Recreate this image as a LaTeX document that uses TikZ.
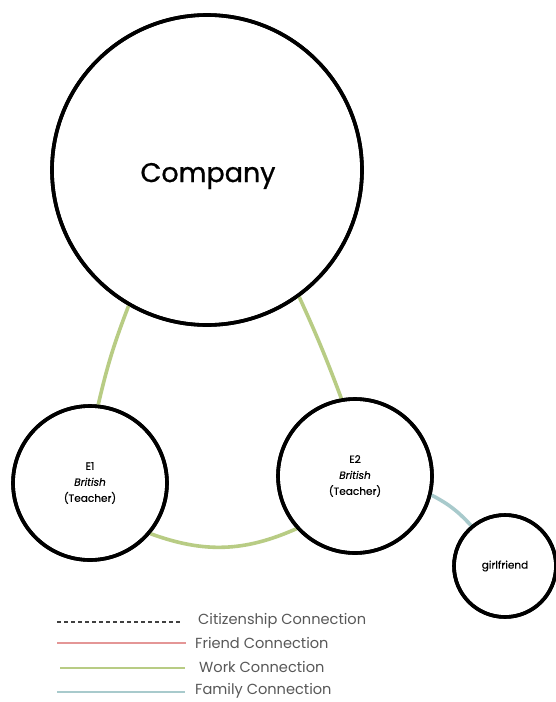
\documentclass[tikz,border=0pt]{standalone}
\usepackage{fontspec}
\setmainfont{Poppins}
\newfontfamily\medfont[FakeBold=0.8]{Poppins}
\newfontfamily\smallfont[FakeBold=0.4]{Poppins}
\definecolor{workgreen}{RGB}{184,204,132}
\definecolor{familyblue}{RGB}{168,202,204}
\definecolor{friendred}{RGB}{228,150,150}
\definecolor{legendgray}{RGB}{88,88,88}
\tikzset{
  person/.style={circle, draw=black, line width=3.6pt, inner sep=0pt, align=center, font=\smallfont\fontsize{10.5}{16}\selectfont},
  work/.style={draw=workgreen, line width=3.6pt},
  family/.style={draw=familyblue, line width=3.6pt},
  legendtext/.style={anchor=west, text=legendgray, font=\fontsize{14.6}{16}\selectfont, inner sep=0pt},
}
\begin{document}
\begin{tikzpicture}[x=1pt,y=-1pt]
\useasboundingbox[fill=white] (0,0) rectangle (555,702);
\node[person, minimum size=310pt] (company) at (207,170) {};
\node[inner sep=0pt, font=\medfont\fontsize{27}{32}\selectfont] (companytext) at (208,176) {Company};
\node[person, minimum size=154pt] (e1) at (90,483) {E1\\\textit{British}\\(Teacher)};
\node[person, minimum size=154pt] (e2) at (355,476) {E2\\\textit{British}\\(Teacher)};
\node[person, minimum size=102pt] (gf) at (505,566) {girlfriend};
\draw[work] (company.240) to[bend right=4] (e1.84);
\draw[work] (company.306) to[bend left=2] (e2.100);
\draw[work] (e1.320) to[bend right=22] (e2.222);
\draw[family] (e2.346) to[bend left=10] (gf.130);
% circles over connector ends
\draw[black, line width=3.6pt] (company.center) circle (155pt);
\draw[black, line width=3.6pt] (e1.center) circle (77pt);
\draw[black, line width=3.6pt] (e2.center) circle (77pt);
\draw[black, line width=3.6pt] (gf.center) circle (51pt);
% legend
\coordinate (l1a) at (57,622); \coordinate (l1b) at (182,622);
\coordinate (l2a) at (57,643); \coordinate (l2b) at (186,643);
\coordinate (l3a) at (60,668); \coordinate (l3b) at (185,668);
\coordinate (l4a) at (57,692); \coordinate (l4b) at (185,692);
\draw[black!75, line width=1.2pt, dash pattern=on 3.5pt off 3.5pt] (l1a) -- (l1b);
\draw[friendred, line width=2.6pt] (l2a) -- (l2b);
\draw[workgreen, line width=2.6pt] (l3a) -- (l3b);
\draw[familyblue, line width=2.6pt] (l4a) -- (l4b);
\node[legendtext] (t1) at (198,621) {Citizenship Connection};
\node[legendtext] (t2) at (195,643) {Friend Connection};
\node[legendtext] (t3) at (199,667) {Work Connection};
\node[legendtext] (t4) at (195,691) {Family Connection};
\end{tikzpicture}
\end{document}
